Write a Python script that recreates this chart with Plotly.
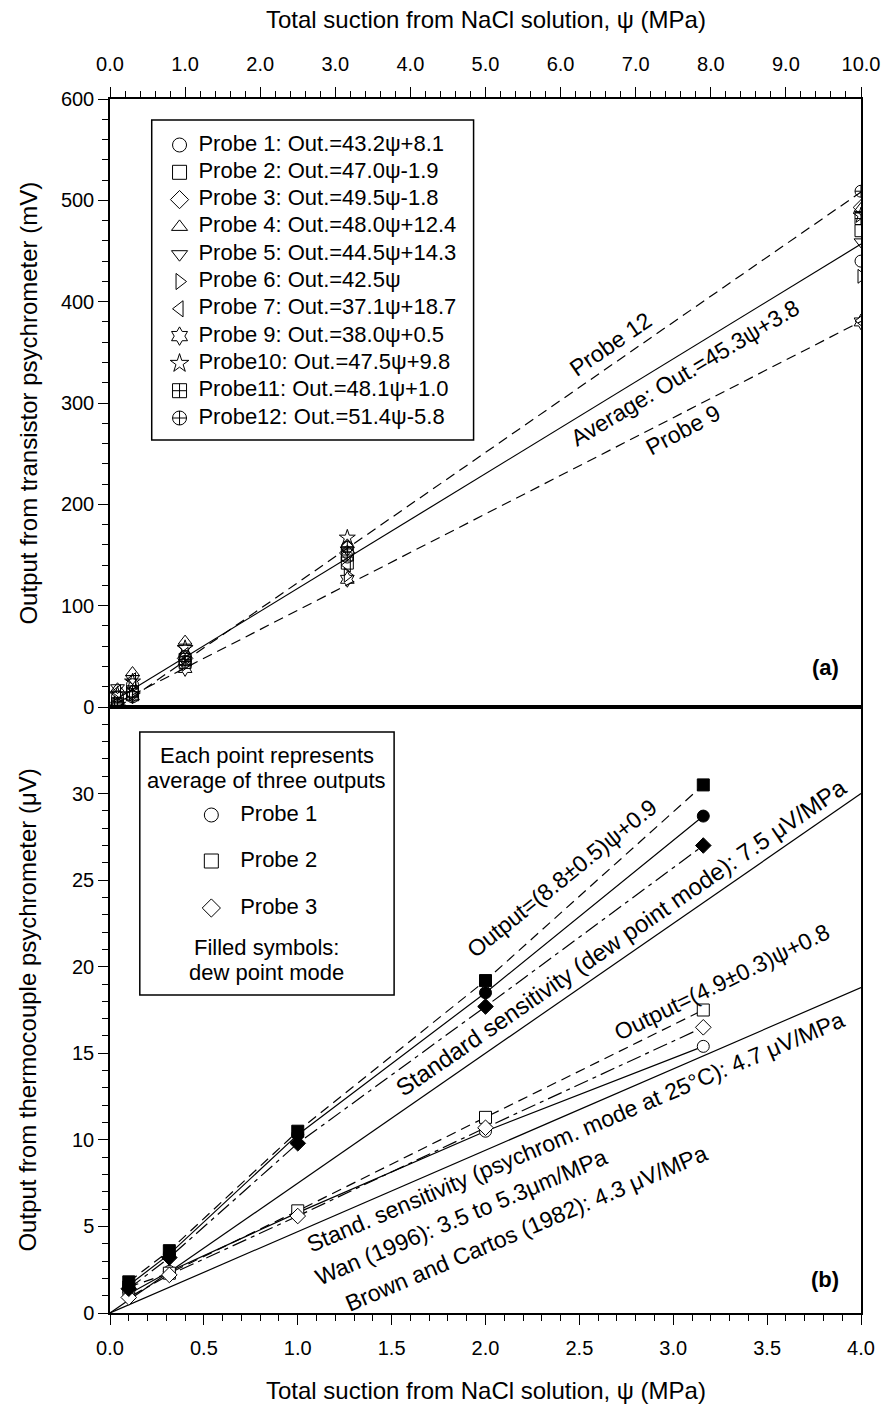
import plotly.graph_objects as go

FONT = "Liberation Sans, Arial, Helvetica, sans-serif"
BLACK = "#000000"

# ---------------- panel (a): transistor psychrometers ----------------
psi_a = [0.1, 0.3, 1.0, 3.16, 10.0]  # total suction, MPa

out_p1 = [10, 22, 50, 148, 440]      # output, mV
out_p2 = [3, 12, 44, 142, 470]
out_p3 = [2, 14, 48, 152, 493]
out_p4 = [18, 34, 65, 160, 492]
out_p5 = [19, 28, 58, 155, 459]
out_p6 = [4, 13, 42, 130, 425]
out_p7 = [15, 27, 52, 140, 381]
out_p9 = [1, 11, 38, 126, 380]
out_p10 = [12, 25, 58, 167, 485]
out_p11 = [3, 15, 47, 150, 482]
out_p12 = [0, 10, 45, 158, 509]

probe_labels = [
    "Probe 1: Out.=43.2ψ+8.1",
    "Probe 2: Out.=47.0ψ-1.9",
    "Probe 3: Out.=49.5ψ-1.8",
    "Probe 4: Out.=48.0ψ+12.4",
    "Probe 5: Out.=44.5ψ+14.3",
    "Probe 6: Out.=42.5ψ",
    "Probe 7: Out.=37.1ψ+18.7",
    "Probe 9: Out.=38.0ψ+0.5",
    "Probe10: Out.=47.5ψ+9.8",
    "Probe11: Out.=48.1ψ+1.0",
    "Probe12: Out.=51.4ψ-5.8",
]
probe_outputs = [out_p1, out_p2, out_p3, out_p4, out_p5, out_p6,
                 out_p7, out_p9, out_p10, out_p11, out_p12]
probe_symbols = ["circle-open", "square-open", "diamond-open",
                 "triangle-up-open", "triangle-down-open", "triangle-right-open",
                 "triangle-left-open", "hexagram-open", "star-open",
                 "square-cross-open", "circle-cross-open"]

# regression lines shown in panel (a)
fit_names = ["Probe 12", "Average", "Probe 9"]
fit_slope = [51.4, 45.3, 38.0]    # mV/MPa
fit_icpt = [-5.8, 3.8, 0.5]       # mV
fit_dash = ["10px,6px", "solid", "10px,6px"]
fit_psi = [0.1, 10.0]

# ---------------- panel (b): thermocouple psychrometers ----------------
psi_b = [0.1, 0.316, 1.0, 2.0, 3.16]  # MPa

psy_p1 = [1.1, 2.4, 5.8, 10.5, 15.4]   # psychrometric mode, µV
psy_p2 = [1.5, 2.3, 5.9, 11.3, 17.5]
psy_p3 = [0.9, 2.2, 5.6, 10.7, 16.5]
dew_p1 = [1.6, 3.4, 10.3, 18.5, 28.7]  # dew point mode, µV
dew_p2 = [1.8, 3.6, 10.5, 19.2, 30.5]
dew_p3 = [1.4, 3.2, 9.8, 17.7, 27.0]

tc_names = ["Probe 1", "Probe 2", "Probe 3"]
tc_symbols = ["circle", "square", "diamond"]
tc_dash = ["solid", "10px,6px", "15px,5px,4px,5px"]
tc_psy = [psy_p1, psy_p2, psy_p3]
tc_dew = [dew_p1, dew_p2, dew_p3]

# reference sensitivities (µV/MPa)
std_slopes = [7.5, 4.7]
std_psi = [0.0, 4.0]

# ---------------- page geometry (pixels) ----------------
W, H = 892, 1411
L, R, T, B = 110, 866, 99, 1313
MID = 707
PW, PH = R - L, B - T


def px(xp):
    return (xp - L) / PW


def py(yp):
    return (B - yp) / PH


split = py(MID)

fig = go.Figure()

# ---- panel (a) traces ----
for name, s, c, d in zip(fit_names, fit_slope, fit_icpt, fit_dash):
    fig.add_trace(go.Scatter(
        x=fit_psi, y=[s * p + c for p in fit_psi], mode="lines",
        line=dict(color=BLACK, width=1.2, dash=d),
        xaxis="x2", yaxis="y2", showlegend=False, hoverinfo="skip"))

for lab, out, sym in zip(probe_labels, probe_outputs, probe_symbols):
    fig.add_trace(go.Scatter(
        x=psi_a, y=out, mode="markers", name=lab,
        marker=dict(symbol=sym, size=12, color=BLACK, line=dict(color=BLACK, width=1)),
        xaxis="x2", yaxis="y2", showlegend=False))

# ---- panel (b) traces ----
for s in std_slopes:
    fig.add_trace(go.Scatter(
        x=std_psi, y=[s * p for p in std_psi], mode="lines",
        line=dict(color=BLACK, width=1.2), showlegend=False, hoverinfo="skip"))

for name, sym, dash, psy, dew in zip(tc_names, tc_symbols, tc_dash, tc_psy, tc_dew):
    for vals in (psy, dew):
        fig.add_trace(go.Scatter(
            x=psi_b, y=vals, mode="lines",
            line=dict(color=BLACK, width=1.2, dash=dash),
            showlegend=False, hoverinfo="skip"))
for name, sym, dash, psy, dew in zip(tc_names, tc_symbols, tc_dash, tc_psy, tc_dew):
    fig.add_trace(go.Scatter(
        x=psi_b, y=psy, mode="markers", name=name,
        marker=dict(symbol=sym, size=12, color="white", line=dict(color=BLACK, width=1)),
        showlegend=False))
    fig.add_trace(go.Scatter(
        x=psi_b, y=dew, mode="markers", name=name + " (dew point)",
        marker=dict(symbol=sym, size=12, color=BLACK, line=dict(color=BLACK, width=1)),
        showlegend=False))

# ---- legend of panel (a): keys on a hidden overlay axis measured in page pixels ----
LA_X0, LA_X1, LA_Y0, LA_Y1 = 152, 476, 120, 440
LA_ROW0, LA_ROWSTEP = 145, 27.3
LA_SYM_X, LA_TXT_X = 180, 199
rows_a = [LA_ROW0 + i * LA_ROWSTEP for i in range(len(probe_labels))]
fig.add_trace(go.Scatter(
    x=[LA_SYM_X] * len(rows_a), y=rows_a, mode="markers",
    marker=dict(symbol=probe_symbols, size=14, color=BLACK, line=dict(color=BLACK, width=1)),
    xaxis="x3", yaxis="y3", showlegend=False, hoverinfo="skip"))
fig.add_trace(go.Scatter(
    x=[LA_TXT_X] * len(rows_a), y=rows_a, mode="text", text=probe_labels,
    textposition="middle right", textfont=dict(family=FONT, size=22, color=BLACK),
    xaxis="x3", yaxis="y3", showlegend=False, hoverinfo="skip"))

# ---- legend of panel (b) ----
LB_X0, LB_X1, LB_Y0, LB_Y1 = 140, 396, 732, 995
rows_b = [815, 861, 908]
LB_SYM_X, LB_TXT_X = 212, 241
fig.add_trace(go.Scatter(
    x=[LB_SYM_X] * 3, y=rows_b, mode="markers",
    marker=dict(symbol=tc_symbols, size=14, color="white", line=dict(color=BLACK, width=1)),
    xaxis="x4", yaxis="y4", showlegend=False, hoverinfo="skip"))
fig.add_trace(go.Scatter(
    x=[LB_TXT_X] * 3, y=rows_b, mode="text", text=tc_names,
    textposition="middle right", textfont=dict(family=FONT, size=22, color=BLACK),
    xaxis="x4", yaxis="y4", showlegend=False, hoverinfo="skip"))

shapes = [
    dict(type="rect", xref="paper", yref="paper",
         x0=px(LA_X0), x1=px(LA_X1), y0=py(LA_Y1), y1=py(LA_Y0),
         line=dict(color=BLACK, width=1.5), fillcolor="rgba(0,0,0,0)"),
    dict(type="rect", xref="paper", yref="paper",
         x0=px(LB_X0), x1=px(LB_X1), y0=py(LB_Y1), y1=py(LB_Y0),
         line=dict(color=BLACK, width=1.5), fillcolor="rgba(0,0,0,0)"),
]

ann = []


def note(text, x, y, xref, yref, size=23, angle=0, xanchor="center", yanchor="middle"):
    ann.append(dict(text=text, x=x, y=y, xref=xref, yref=yref, showarrow=False,
                    textangle=angle, xanchor=xanchor, yanchor=yanchor,
                    font=dict(family=FONT, size=size, color=BLACK)))


cx = (LB_X0 + LB_X1) / 2
note("Each point represents", px(cx), py(755), "paper", "paper", size=22)
note("average of three outputs", px(cx), py(781), "paper", "paper", size=22)
note("Filled symbols:", px(cx), py(947), "paper", "paper", size=22)
note("dew point mode", px(cx), py(972), "paper", "paper", size=22)

# axis titles
note("Total suction from NaCl solution, ψ (MPa)", 0.5, py(20), "paper", "paper", size=24)
note("Total suction from NaCl solution, ψ (MPa)", 0.5, py(1390), "paper", "paper", size=24)
note("Output from transistor psychrometer (mV)", px(27), py((T + MID) / 2), "paper", "paper", size=24, angle=-90)
note("Output from thermocouple psychrometer (μV)", px(27), py((MID + B) / 2), "paper", "paper", size=24, angle=-90)

# panel tags
note("<b>(a)</b>", px(846), py(667), "paper", "paper", size=22, xanchor="right")
note("<b>(b)</b>", px(846), py(1279), "paper", "paper", size=22, xanchor="right")

# line labels, panel (a)
note("Probe 12", 6.67, 358, "x2", "y2", angle=-34.5)
note("Average: Out.=45.3ψ+3.8", 7.65, 330, "x2", "y2", angle=-31)
note("Probe 9", 7.63, 273, "x2", "y2", angle=-28)

# line labels, panel (b)
note("Output=(8.8±0.5)ψ+0.9", 2.41, 25.1, "x", "y", angle=-39)
note("Standard sensitivity (dew point mode): 7.5 μV/MPa", 2.72, 21.7, "x", "y", size=24, angle=-34.5)
note("Output=(4.9±0.3)ψ+0.8", 3.26, 19.1, "x", "y", angle=-26)
note("Stand. sensitivity (psychrom. mode at 25°C): 4.7 μV/MPa", 2.478, 10.45, "x", "y", angle=-23)
note("Wan (1996): 3.5 to 5.3μm/MPa", 1.87, 5.55, "x", "y", angle=-23)
note("Brown and Cartos (1982): 4.3 μV/MPa", 2.22, 4.9, "x", "y", angle=-23)

axis_common = dict(showline=True, linecolor=BLACK, linewidth=1.5, mirror=True,
                   showgrid=False, zeroline=False, ticks="outside", ticklen=10,
                   tickwidth=1.2, tickcolor=BLACK,
                   tickfont=dict(family=FONT, size=20, color=BLACK))


def minor(step):
    return dict(dtick=step, tick0=0, ticklen=6, ticks="outside", tickwidth=1.2,
                tickcolor=BLACK, showgrid=False)


hidden = dict(visible=False, fixedrange=True, showgrid=False, zeroline=False)

fig.update_layout(
    width=W, height=H, autosize=False,
    margin=dict(l=L, r=W - R, t=T, b=H - B, pad=0),
    paper_bgcolor="white", plot_bgcolor="rgba(0,0,0,0)",
    showlegend=False,
    font=dict(family=FONT, color=BLACK),
    xaxis=dict(domain=[0, 1], range=[0, 4], anchor="y", dtick=0.5, tick0=0,
               tickformat=".1f", ticklabelstandoff=6, minor=minor(0.1), **axis_common),
    yaxis=dict(domain=[0, split], range=[0, 35], anchor="x",
               tickmode="array", tickvals=[0, 5, 10, 15, 20, 25, 30],
               minor=minor(1), **axis_common),
    xaxis2=dict(domain=[0, 1], range=[0, 10], anchor="y2", side="top", dtick=1, tick0=0,
                tickformat=".1f", ticklabelstandoff=8, minor=minor(0.2), **axis_common),
    yaxis2=dict(domain=[split, 1], range=[0, 600], anchor="x2", dtick=100, tick0=0,
                minor=minor(20), **axis_common),
    # hidden overlay axes in page pixels, carrying the legend keys
    xaxis3=dict(range=[L, R], anchor="y3", overlaying="x2", **hidden),
    yaxis3=dict(range=[MID, T], anchor="x3", overlaying="y2", **hidden),
    xaxis4=dict(range=[L, R], anchor="y4", overlaying="x", **hidden),
    yaxis4=dict(range=[B, MID], anchor="x4", overlaying="y", **hidden),
    shapes=shapes,
    annotations=ann,
)

fig.write_html("out.html")
